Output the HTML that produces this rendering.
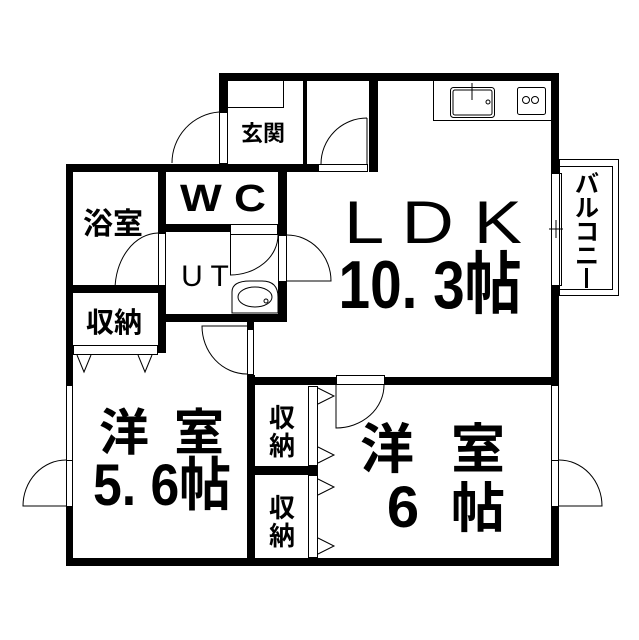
<!DOCTYPE html>
<html><head><meta charset="utf-8"><style>
html,body{margin:0;padding:0;background:#fff;}
svg{display:block;}
text{font-family:"Liberation Sans","Noto Sans CJK JP",sans-serif;fill:#000;}
</style></head><body>
<svg width="639" height="640" viewBox="0 0 639 640" xmlns="http://www.w3.org/2000/svg">
<g fill="#000">
<rect x="219" y="73" width="340" height="8"/>
<rect x="219" y="73" width="9" height="39"/>
<rect x="303" y="73" width="4" height="99"/>
<rect x="369" y="73" width="9" height="99"/>
<rect x="66" y="164" width="252" height="8"/>
<rect x="551" y="73" width="8" height="100"/>
<rect x="551" y="285" width="8" height="100"/>
<rect x="551" y="506" width="8" height="60"/>
<rect x="66" y="164" width="7" height="221"/>
<rect x="66" y="506" width="7" height="60"/>
<rect x="66" y="558" width="493" height="8"/>
<rect x="158" y="164" width="8" height="69"/>
<rect x="158" y="290" width="8" height="63"/>
<rect x="166" y="224" width="64" height="8"/>
<rect x="278" y="164" width="9" height="71"/>
<rect x="278" y="282" width="9" height="40"/>
<rect x="66" y="285" width="100" height="8"/>
<rect x="158" y="314" width="129" height="8"/>
<rect x="247" y="314" width="6" height="16"/>
<rect x="247" y="375" width="8" height="191"/>
<rect x="247" y="377" width="89" height="8"/>
<rect x="384" y="377" width="175" height="8"/>
<rect x="255" y="466" width="63" height="9"/>
</g>
<g fill="none" stroke="#000" stroke-width="1">
<rect x="219.5" y="112.5" width="8" height="51"/>
<path d="M219 112 A51 51 0 0 0 172 163"/>
<path d="M283.5 81 V107.5 H228"/>
<rect x="318.5" y="164.5" width="49" height="7"/>
<path d="M367 118 V164 M367 118 A46 46 0 0 0 321 164"/>
<rect x="158.5" y="233.5" width="7" height="57"/>
<path d="M158 233 A44 57 0 0 0 115 290 H158"/>
<rect x="230.5" y="224.5" width="47" height="10"/>
<path d="M230.5 235 V275 A48 40 0 0 0 278 235"/>
<rect x="278.5" y="235.5" width="8" height="46"/>
<path d="M287 235 A44 46 0 0 1 331 281 H287"/>
<path d="M232 313 V292 Q232 281 250 281 H262 Q278 281 278 297 V313 Z"/>
<ellipse cx="255" cy="297" rx="17" ry="10"/>
<circle cx="266" cy="301" r="2"/>
<rect x="73.5" y="345.5" width="84" height="9"/>
<path d="M77 355 L84 372 L91 355 M138 355 L145 372 L152 355"/>
<rect x="247.5" y="322.5" width="6" height="52"/>
<path d="M247 374 A45 48 0 0 1 202 326 H247"/>
<rect x="66.5" y="385.5" width="6" height="75"/>
<rect x="66.5" y="460.5" width="6" height="46"/>
<path d="M66 460 A43 46 0 0 0 23 506 H66"/>
<rect x="551.5" y="385.5" width="7" height="75"/>
<rect x="551.5" y="460.5" width="7" height="46"/>
<path d="M559 460 A43 46 0 0 1 602 506 H559"/>
<rect x="336.5" y="375.5" width="48" height="9"/>
<path d="M336 385 V428 A48 43 0 0 0 384 385"/>
<rect x="308.5" y="386.5" width="9" height="79"/>
<rect x="308.5" y="475.5" width="9" height="82"/>
<path d="M318 388 L334 396 L318 404 M318 447 L334 455 L318 463 M318 479 L334 487 L318 495 M318 538 L334 546 L318 554"/>
<path d="M433.5 81 V120.5 H551"/>
<rect x="450.5" y="87.5" width="44" height="30" rx="3"/>
<rect x="453" y="90" width="39" height="25" rx="2"/>
<path d="M472 83 V100"/>
<circle cx="488" cy="102" r="2"/>
<rect x="517.5" y="87.5" width="28" height="27" rx="2"/>
<circle cx="526" cy="100" r="3.5"/><circle cx="535" cy="100" r="3.5"/>
<rect x="559.5" y="159.5" width="59" height="136"/>
<rect x="559.5" y="166.5" width="53" height="123"/>
<rect x="551.5" y="173.5" width="10" height="112"/>
<path d="M549 229 H563 M556 220 V238"/>
</g>
<g font-weight="bold">
<text x="263" y="141" font-size="22" text-anchor="middle">玄関</text>
<text x="223" y="211" font-size="38" text-anchor="middle" textLength="86" lengthAdjust="spacingAndGlyphs">W C</text>
<text x="113" y="234" font-size="30" text-anchor="middle">浴室</text>
<text x="114" y="332" font-size="28" text-anchor="middle">収納</text>
</g>
<text x="205" y="286" font-size="30" text-anchor="middle">U T</text>
<text x="433" y="243" font-size="60" text-anchor="middle" textLength="178" lengthAdjust="spacingAndGlyphs">L D K</text>
<text x="430" y="308" font-size="68" text-anchor="middle" textLength="183" lengthAdjust="spacingAndGlyphs" font-weight="bold">10. 3帖</text>
<g font-size="24" text-anchor="middle" font-weight="bold">
<text x="587" y="192">バ</text><text x="587" y="216">ル</text><text x="587" y="240">コ</text><text x="587" y="264">ニ</text>
</g>
<rect x="585" y="268" width="3" height="20" fill="#000"/>
<g font-weight="bold">
<text x="124" y="450" font-size="50" text-anchor="middle">洋</text>
<text x="199" y="450" font-size="50" text-anchor="middle">室</text>
<text x="162" y="505" font-size="58" text-anchor="middle" textLength="138" lengthAdjust="spacingAndGlyphs">5. 6帖</text>
<text x="282" y="427" font-size="26" text-anchor="middle">収</text>
<text x="282" y="455" font-size="26" text-anchor="middle">納</text>
<text x="282" y="517" font-size="26" text-anchor="middle">収</text>
<text x="282" y="545" font-size="26" text-anchor="middle">納</text>
<text x="387" y="468" font-size="54" text-anchor="middle">洋</text>
<text x="478" y="468" font-size="54" text-anchor="middle">室</text>
<text x="403" y="527" font-size="58" text-anchor="middle">6</text>
<text x="478" y="527" font-size="54" text-anchor="middle">帖</text>
</g>
</svg>
</body></html>
